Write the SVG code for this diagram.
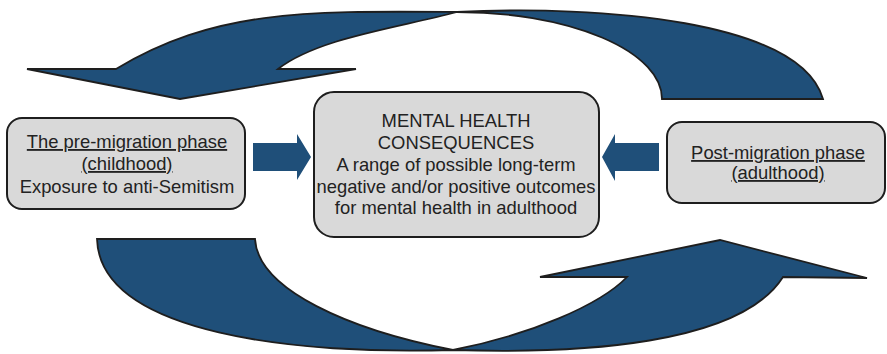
<svg xmlns="http://www.w3.org/2000/svg" width="887" height="354" viewBox="0 0 887 354">
  <style>
    .box { fill: #d9d9d9; stroke: #1e1e1e; stroke-width: 2; }
    .cycle { fill: #1f4f79; stroke: #1e1e1e; stroke-width: 1.8; stroke-linejoin: miter; }
    .push { fill: #1f4f79; }
    text { font-family: "Liberation Sans", Arial, sans-serif; font-size: 18.4px; fill: #222; text-anchor: middle; }
    .u { text-decoration: underline; }
  </style>
  <rect width="887" height="354" fill="#fff"/>

  <g id="connectors">
    <!-- top curved arrow: from the right side back over to the left box -->
    <path class="cycle" d="M27,69 L116,69 C216,9 307,11 457,12 C600,5 800,20 823,99 L662,99 A205,87 0 0 0 457,12 C397,28 318,38 278,69 L356,69 L180,99 Z"/>
    <!-- bottom curved arrow: from the left side under to the right box -->
    <path class="cycle" d="M867,278 L783,277 C740,345 580,354 453,350 C300,355 100,335 97,239 L255,239 C258,290 350,330 453,350 C530,335 600,305 627,277 L540,277 L720,240 Z"/>
    <!-- straight arrows into the central box -->
    <path class="push" d="M253,143 L297,143 L297,134 L311,157 L297,180 L297,171 L253,171 Z"/>
    <path class="push" d="M659,143 L615,143 L615,134 L602,157 L615,181 L615,171 L659,171 Z"/>
  </g>

  <g id="pre-migration">
    <rect class="box" x="7" y="118" width="238" height="91" rx="15"/>
    <text x="127" y="148" class="u">The pre-migration phase</text>
    <text x="127" y="170" class="u">(childhood)</text>
    <text x="127" y="193">Exposure to anti-Semitism</text>
  </g>

  <g id="consequences">
    <rect class="box" x="314" y="92" width="285" height="145" rx="20"/>
    <text x="456" y="127">MENTAL HEALTH</text>
    <text x="456" y="149">CONSEQUENCES</text>
    <text x="456" y="171">A range of possible long-term</text>
    <text x="456" y="193">negative and/or positive outcomes</text>
    <text x="456" y="214">for mental health in adulthood</text>
  </g>

  <g id="post-migration">
    <rect class="box" x="667" y="122" width="218" height="81" rx="15"/>
    <text x="778" y="159" class="u">Post-migration phase</text>
    <text x="778" y="179" class="u">(adulthood)</text>
  </g>
</svg>
